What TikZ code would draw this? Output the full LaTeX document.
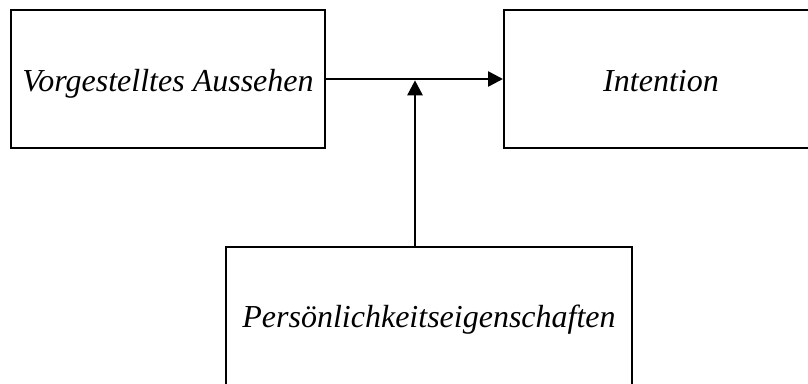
\documentclass[tikz,border=0pt]{standalone}
\usepackage{fontspec}
\setmainfont{Liberation Serif}
\usetikzlibrary{arrows.meta}
\begin{document}
\begin{tikzpicture}[x=1pt,y=-1pt,
  box/.style={draw=black, line width=2pt, rectangle, inner sep=0pt,
              font=\fontsize{32}{38}\selectfont\itshape, text depth=0pt},
  link/.style={line width=2.6pt, -{Triangle[length=15pt,width=15pt]}}]
  \useasboundingbox (0,0) rectangle (808,383);
  \clip (0,0) rectangle (808,383);
  \fill[white] (0,0) rectangle (808,383);

  % the three boxes
  \node[box, text height=24pt, minimum width=314pt, minimum height=138pt] (aussehen) at (168,79) {Vorgestelltes Aussehen};
  \node[box, text height=24pt, minimum width=314pt, minimum height=138pt] (intention) at (661,79) {Intention};
  \node[box, text height=20pt, minimum width=406pt, minimum height=140pt] (persoenlichkeit) at (429,317) {Persönlichkeitseigenschaften};

  % main path and the moderating influence meeting it from below
  \coordinate (mitte) at (415,79);
  \draw[link] (aussehen.east) -- (intention.west);
  \draw[link, shorten >=1.3pt] (persoenlichkeit.north -| mitte) -- (mitte);
\end{tikzpicture}
\end{document}
